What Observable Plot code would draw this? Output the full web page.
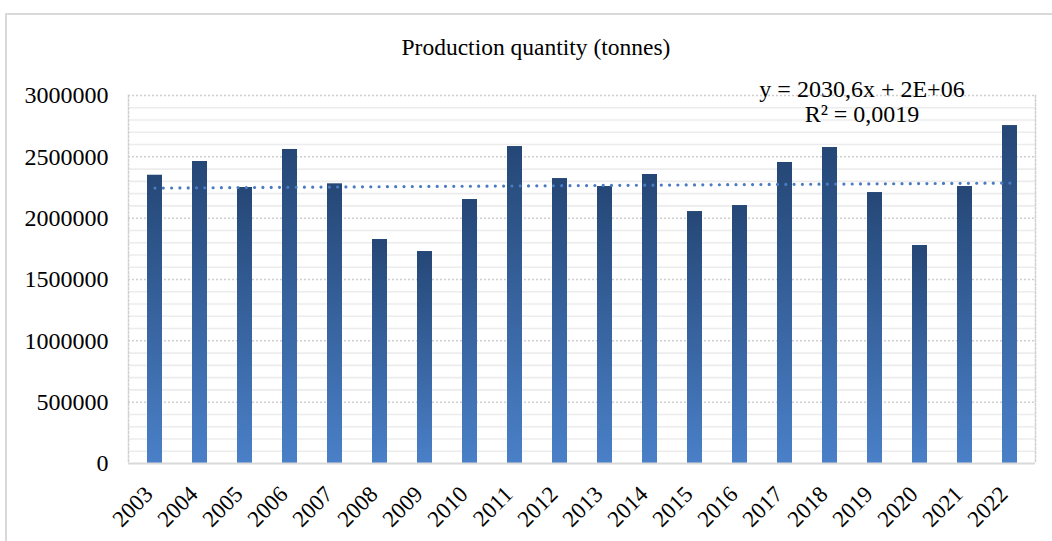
<!DOCTYPE html>
<html>
<head>
<meta charset="utf-8">
<script src="https://cdn.jsdelivr.net/npm/d3@7"></script>
<script src="https://cdn.jsdelivr.net/npm/@observablehq/plot@0.6"></script>
<style>
  html, body { margin: 0; padding: 0; background: #fff; }
  #chart { width: 1052px; height: 541px; position: relative; overflow: hidden; }
</style>
</head>
<body>
<div id="chart"></div>
<script>
// ---- data ----
const years = ["2003","2004","2005","2006","2007","2008","2009","2010","2011","2012",
               "2013","2014","2015","2016","2017","2018","2019","2020","2021","2022"];
const production = [2350000, 2462000, 2250000, 2560000, 2280000, 1826000, 1728000, 2152000, 2584000, 2323000,
                    2258000, 2356000, 2054000, 2103000, 2454000, 2576000, 2209000, 1777000, 2258000, 2755000];
const yTicks = [0, 500000, 1000000, 1500000, 2000000, 2500000, 3000000];
const minorTicks = d3.range(100000, 3000001, 100000).filter(v => v % 500000 !== 0);
const titleText = "Production quantity (tonnes)";
const equationLines = ["y = 2030,6x + 2E+06", "R² = 0,0019"];

const data = years.map((y, i) => ({year: y, value: production[i], idx: i + 1}));

// least-squares trend line (like Excel's linear trendline)
const mx = d3.mean(data, d => d.idx), my = d3.mean(data, d => d.value);
const slope = d3.sum(data, d => (d.idx - mx) * (d.value - my)) / d3.sum(data, d => (d.idx - mx) ** 2);
const intercept = my - slope * mx;
const trend = data.map(d => ({year: d.year, value: intercept + slope * d.idx}));

const font = "Liberation Serif, 'Times New Roman', serif";

const svg = Plot.plot({
  width: 1052,
  height: 541,
  marginLeft: 128,
  marginRight: 17,
  marginTop: 95,
  marginBottom: 78,
  style: {fontFamily: font, background: "transparent", overflow: "visible"},
  x: {type: "band", domain: years, paddingInner: 0.667, paddingOuter: 0.333},
  y: {domain: [0, 3000000]},
  marks: [
    // minor gridlines
    Plot.ruleY(minorTicks, {stroke: "#ececec", strokeWidth: 1.6}),
    // major gridlines (dotted)
    Plot.ruleY(yTicks.filter(v => v > 0), {stroke: "#cfcfcf", strokeWidth: 1.5, strokeDasharray: "2,2"}),
    // vertical dotted frame sides
    Plot.frame({anchor: "left", stroke: "#cfcfcf", strokeWidth: 1.5, strokeDasharray: "2,2"}),
    Plot.frame({anchor: "right", stroke: "#cfcfcf", strokeWidth: 1.5, strokeDasharray: "2,2"}),
    Plot.barY(data, {x: "year", y: "value", fill: "url(#barGrad)"}),
    Plot.ruleY([0], {stroke: "#d9d9d9", strokeWidth: 2}),
    Plot.line(trend, {x: "year", y: "value", stroke: "#4a7bc2", strokeWidth: 3.2,
      strokeDasharray: "0,8.3", strokeLinecap: "round"}),
    Plot.axisY(yTicks, {tickSize: 0, tickPadding: 20, fontSize: 24, fill: "#000", label: null,
      tickFormat: d => String(d)}),
    Plot.axisX({tickSize: 0, tickPadding: 27, dx: -6, tickRotate: -45, fontSize: 23, fill: "#000", label: null})
  ]
});

// gradient for the bars
const defs = d3.select(svg).insert("defs", ":first-child");
const grad = defs.append("linearGradient").attr("id", "barGrad")
  .attr("x1", 0).attr("y1", 0).attr("x2", 0).attr("y2", 1);
grad.append("stop").attr("offset", "0%").attr("stop-color", "#254776");
grad.append("stop").attr("offset", "100%").attr("stop-color", "#4a80c8");

// outer chart border
d3.select(svg).insert("rect", "defs + *")
  .attr("x", 6).attr("y", 14).attr("width", 1100).attr("height", 600)
  .attr("fill", "none").attr("stroke", "#d9d9d9").attr("stroke-width", 2);

// title
d3.select(svg).append("text")
  .attr("x", 536).attr("y", 50).attr("text-anchor", "middle").attr("dominant-baseline", "middle")
  .attr("font-size", 23.5).attr("font-family", font).attr("fill", "#000")
  .text(titleText);

// trendline equation
const eq = d3.select(svg).append("text")
  .attr("text-anchor", "middle").attr("font-size", 24).attr("font-family", font).attr("fill", "#000");
equationLines.forEach((t, i) => {
  eq.append("tspan").attr("x", 862).attr("y", 91 + i * 25).attr("dominant-baseline", "middle").text(t);
});

document.getElementById("chart").appendChild(svg);
</script>
</body>
</html>
